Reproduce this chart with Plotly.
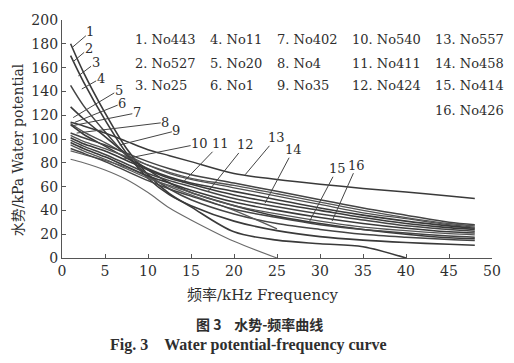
import plotly.graph_objects as go

# ---------------- data ----------------
freq = [1, 2.5, 5, 7.5, 10, 12.5, 15, 20, 25, 30, 35, 40, 45, 48]

no443 = [180, 156, 122, 92, 70, 54, 43, 22, 15, 12, 9.5, 0, None, None]
no527 = [170, 148, 116, 88, 67, 53, 44, 31, 23, 18, 15, 13, 11.5, 10.7]
no25 = [145, 128, 106, 86, 70, 58, 49, 37, 29, 24, 20, 17.5, 15.5, 14.8]
no11 = [127, 117, 102, 87, 74, 63, 55, 44, 35, 29, 24, 20, 17, 16.2]
no20 = [113, 106, 97, 87, 78, 71, 66, 59, 52, 45, 38, 33, 28, 26]
no1 = [112, 104, 94, 84, 75, 68, 63, 56, 49, 42, 36, 31, 27, 25]
no402 = [105, 101, 95, 88, 81, 75, 70, 63, 56, 49, 42, 36, 30, 28]
no4 = [103, 98, 92, 85, 78, 72, 67, 61, 54, 47, 40, 34, 29, 27]
no35 = [101, 96, 90, 82, 74, 67, 62, 53, 46, 40, 34, 29, 25.5, 24]
no540 = [90, 87, 82, 76, 68, 60, 53, 40, 24.5, None, None, None, None, None]
no411 = [99, 94, 87, 79, 71, 65, 60, 50, 43, 37, 32, 27, 24, 22.5]
no424 = [97, 92, 85, 77, 69, 63, 57, 47, 40, 34, 29, 25, 22, 21]
no557 = [114, 111, 105, 98, 91, 86, 81, 71, 66, 62, 58.5, 55.5, 52, 50]
no458 = [95, 90, 83, 75, 67, 61, 55, 44, 37, 31, 26, 23, 20.5, 19.5]
no414 = [92, 88, 81, 73, 65, 58, 52, 41, 34, 28, 24, 21, 18.5, 17.5]
no426 = [83, 80, 74, 66, 55, 42, 32, 14, 0, None, None, None, None, None]

series = [no443, no527, no25, no11, no20, no1, no402, no4,
          no35, no540, no411, no424, no557, no458, no414, no426]
sample_names = ["No443", "No527", "No25", "No11", "No20", "No1", "No402", "No4",
                "No35", "No540", "No411", "No424", "No557", "No458", "No414", "No426"]

# curve label text position (x, y) and pointer tip (x, y) in data units
label_x = [3.3, 3.1, 3.9, 4.5, 6.6, 7.0, 8.7, 12.0, 13.3, 16.0, 18.4, 21.3, 24.9, 26.9, 32.0, 34.3]
label_y = [190, 176, 164, 151, 141, 130, 122, 114, 107, 96, 96, 95, 101, 91, 75, 78]
tip_x = [1.2, 1.3, 1.9, 2.3, 1.3, 1.5, 1.1, 1.7, 6.7, 7.1, 14.0, 17.0, 21.3, 23.6, 28.8, 31.4]
tip_y = [177, 165, 153, 142, 118, 114, 111, 105, 95, 83, 63, 56, 70, 46, 31, 31]

x_ticks = [0, 5, 10, 15, 20, 25, 30, 35, 40, 45, 50]
y_ticks = [0, 20, 40, 60, 80, 100, 120, 140, 160, 180, 200]

# ---------------- figure ----------------
SERIF = "DejaVu Serif, Liberation Serif, Noto Sans CJK SC"
CJK = "Noto Sans CJK SC, DejaVu Serif"
TXT = "#2e2e2e"

fig = go.Figure()
shades = ["#3a3a3a", "#3a3a3a", "#444444", "#3a3a3a", "#505050", "#3a3a3a", "#444444", "#555555",
          "#3a3a3a", "#5a5a5a", "#444444", "#3a3a3a", "#3a3a3a", "#555555", "#444444", "#6a6a6a"]
widths = [1.6, 1.6, 1.5, 1.6, 1.3, 1.6, 1.5, 1.3, 1.6, 1.2, 1.5, 1.6, 1.5, 1.3, 1.5, 1.1]
for vals, name, c, w in zip(series, sample_names, shades, widths):
    fig.add_trace(go.Scatter(x=freq, y=vals, mode="lines", name=name,
                             line=dict(color=c, width=w, shape="spline", smoothing=0.9),
                             connectgaps=False, showlegend=False, hoverinfo="skip"))

annotations = []
# numbered pointers
for i in range(16):
    annotations.append(dict(x=tip_x[i], y=tip_y[i], ax=label_x[i], ay=label_y[i],
                            xref="x", yref="y", axref="x", ayref="y",
                            text=str(i + 1), showarrow=True, arrowhead=0,
                            arrowwidth=1, arrowcolor="#444", standoff=0, borderpad=0,
                            font=dict(family=SERIF, size=13, color=TXT)))

# legend text block
col_px = [133, 208, 275, 350, 433]
row_py = [35, 59, 82, 107]
for i, name in enumerate(sample_names):
    col = min(i // 3, 4)
    row = i - col * 3
    px, py = col_px[col], row_py[row]
    annotations.append(dict(x=(px - 62) / 430, y=(258 - py) / 243, xref="paper", yref="paper",
                            xanchor="left", yanchor="middle", showarrow=False,
                            text=f"{i + 1}. {name}",
                            font=dict(family=SERIF, size=13, color=TXT)))

# axis titles and caption
annotations.append(dict(x=(263 - 62) / 430, y=(258 - 296) / 243, xref="paper", yref="paper",
                        xanchor="center", yanchor="middle", showarrow=False,
                        text="频率/kHz Frequency", font=dict(family=SERIF, size=15, color=TXT)))
annotations.append(dict(x=(18 - 62) / 430, y=(258 - 148) / 243, xref="paper", yref="paper",
                        xanchor="center", yanchor="middle", showarrow=False, textangle=-90,
                        text="水势/kPa Water potential", font=dict(family=SERIF, size=14, color=TXT)))
annotations.append(dict(x=(259 - 62) / 430, y=(258 - 325) / 243, xref="paper", yref="paper",
                        xanchor="center", yanchor="middle", showarrow=False,
                        text="<b>图 3&nbsp;&nbsp;&nbsp;&nbsp;水势-频率曲线</b>",
                        font=dict(family=CJK, size=14, color=TXT)))
annotations.append(dict(x=(248 - 62) / 430, y=(258 - 347) / 243, xref="paper", yref="paper",
                        xanchor="center", yanchor="middle", showarrow=False,
                        text="<b>Fig. 3&nbsp;&nbsp;&nbsp;&nbsp;Water potential-frequency curve</b>",
                        font=dict(family="Liberation Serif, DejaVu Serif", size=16, color=TXT)))

fig.update_layout(
    width=514, height=363,
    margin=dict(l=62, r=22, t=15, b=105),
    paper_bgcolor="white", plot_bgcolor="white",
    annotations=annotations,
    showlegend=False,
)
fig.update_xaxes(range=[0, 50], tickvals=x_ticks, ticktext=[str(v) for v in x_ticks],
                 showgrid=False, zeroline=False, showline=True, linecolor="#555", linewidth=1.3,
                 ticks="inside", ticklen=4, tickcolor="#555",
                 tickfont=dict(family=SERIF, size=14, color=TXT))
fig.update_yaxes(range=[0, 200], tickvals=y_ticks, ticktext=[str(v) for v in y_ticks],
                 showgrid=False, zeroline=False, showline=True, linecolor="#555", linewidth=1.3,
                 ticks="inside", ticklen=4, tickcolor="#555",
                 tickfont=dict(family=SERIF, size=14, color=TXT))

fig.write_html("out.html", config={"displayModeBar": False},
               post_script="document.body.style.margin='0';")
